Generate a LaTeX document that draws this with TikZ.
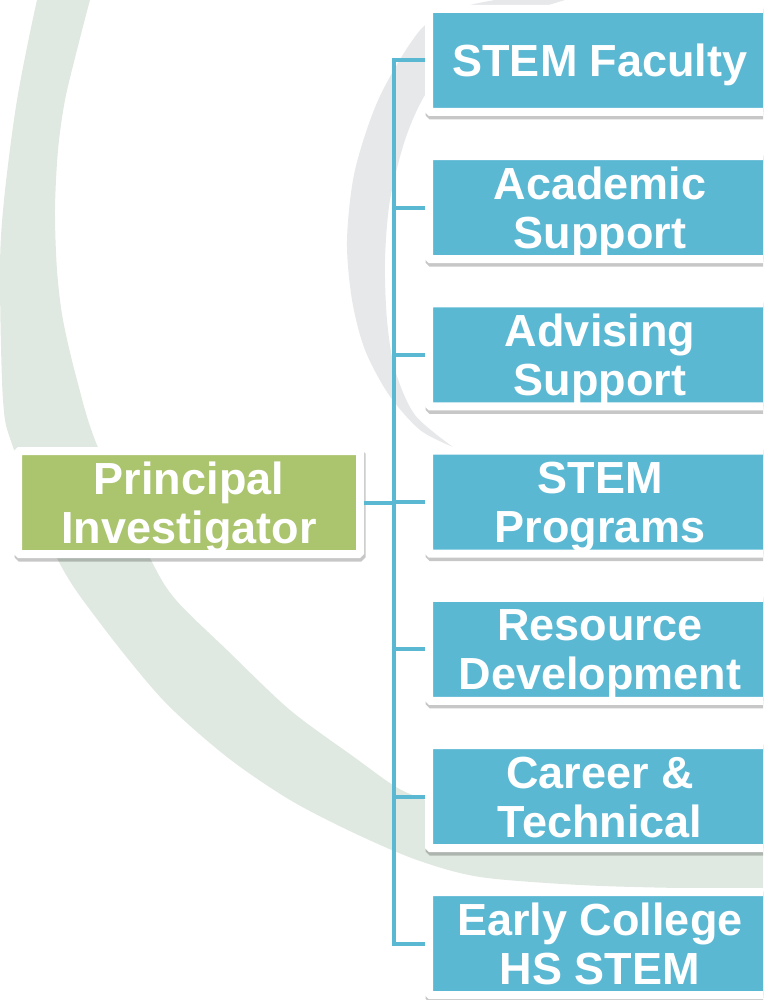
\documentclass[tikz,border=0pt]{standalone}
\usepackage{fontspec}
\setmainfont{Liberation Sans}
\usepackage{tikz}
\usetikzlibrary{shadows}

\definecolor{unitblue}{HTML}{5BB8D3}
\definecolor{leadgreen}{HTML}{ABC46E}
\definecolor{ringgreen}{HTML}{DFE9E1}
\definecolor{ringgray}{HTML}{E7E8EA}
\newcommand{\oneline}[1]{\rule{0pt}{32pt}\smash{#1}}
\newcommand{\twolines}[2]{\rule{0pt}{32pt}\smash{#1}\\\smash{#2}}

\begin{document}
\begin{tikzpicture}[x=1pt,y=-1pt,node distance=147.2pt,
                    box/.style={rectangle,draw=white,line width=8pt,rounded corners=1.5pt,
                      minimum width=342pt,minimum height=103pt,inner sep=0pt,
                      text=white,align=center,font=\fontsize{45}{49}\selectfont\bfseries,
                      drop shadow={shadow xshift=1pt,shadow yshift=-3pt,opacity=0.22,
                        fill=black,draw=black,line width=9pt}},
                    unit node/.style={box,fill=unitblue},
                    lead node/.style={box,fill=leadgreen},
                    link/.style={draw=unitblue,line width=4pt},
                    elbow/.style={to path={|- (\tikztotarget)}}]
  \useasboundingbox (0,0) rectangle (763,1000);
  \clip (0,0) rectangle (763,1000);

  %rings%
  \fill[ringgreen] plot[smooth] coordinates {(45,-20) (37,0) (17,100) (4,200) (0,270)
      (3,400) (13,447) (58,560) (100,623) (163,700) (227,757) (290,800) (354,833)
      (417,860) (480,877) (580,885) (680,888) (800,889)}
    -- plot[smooth] coordinates {(800,851) (763,851) (650,846) (560,836) (490,822)
      (426,800) (396,787) (354,757) (290,710) (227,650) (176,600) (151,560) (97,445)
      (77,380) (63,320) (57,270) (55,210) (58,150) (65,100) (77,50) (90,0) (96,-20)}
    -- cycle;
  \fill[ringgray] plot[smooth] coordinates {(560,-10) (470,5) (423,27) (380,96)
      (355,170) (347,240) (352,300) (365,350) (389,395) (420,430) (453,447)}
    -- plot[smooth] coordinates {(453,447) (415,415) (395,370) (387,320) (385,260)
      (390,200) (405,140) (425,95) (460,50) (520,15) (600,-10)}
    -- cycle;

  %chart%
  \node[lead node] (0) at (189,502.5) {\twolines{Principal}{Investigator}};
  \node[unit node] (1) at (600,60.5) {\oneline{STEM Faculty}};
  \node[unit node] (2) [below of=1] {\twolines{Academic}{Support}};
  \node[unit node] (3) [below of=2] {\twolines{Advising}{Support}};
  \node[unit node] (4) [below of=3] {\twolines{STEM}{Programs}};
  \node[unit node] (5) [below of=4] {\twolines{Resource}{Development}};
  \node[unit node] (6) [below of=5] {\twolines{Career \&}{Technical}};
  \node[unit node] (7) [below of=6] {\twolines{Early College}{HS STEM}};
  \coordinate (bus) at (394,502.5);

  \path[every edge/.append style={link}]
    (0) edge (bus)
    (bus) edge[elbow] (1)
        edge[elbow] (2)
        edge[elbow] (3)
        edge[elbow] (4)
        edge[elbow] (5)
        edge[elbow] (6)
        edge[elbow] (7);
\end{tikzpicture}
\end{document}
